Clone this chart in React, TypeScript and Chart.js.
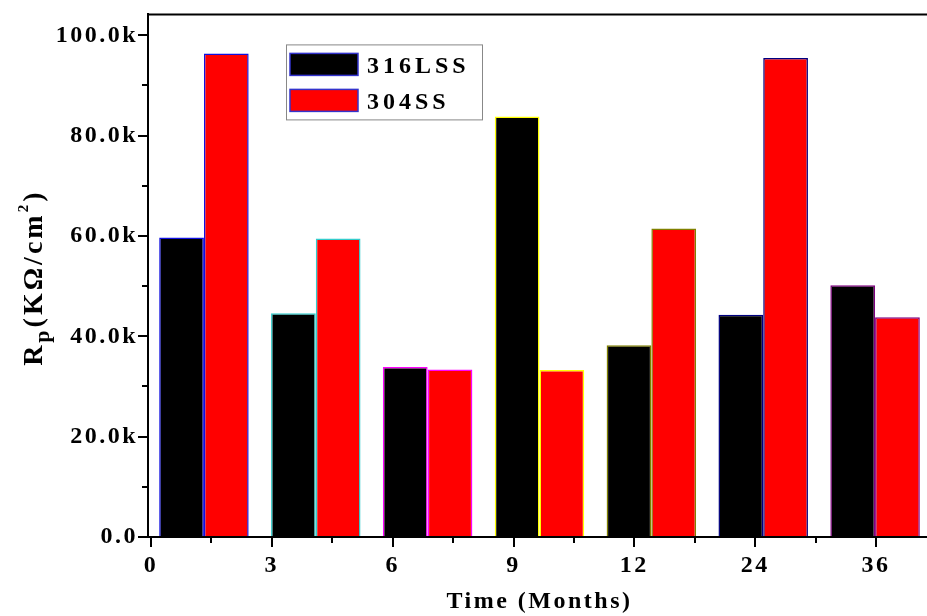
import React, { useEffect, useRef } from "react";
import { Chart, registerables } from "chart.js";

Chart.register(...registerables);

const categories = ["0", "3", "6", "9", "12", "24", "36"];
const xTickLabels = ["0", "3", "6", "9", "12", "24", "36"];
const series316 = [59700, 44600, 33900, 83800, 38200, 44300, 50200];
const series304 = [96400, 59500, 33400, 33300, 61500, 95500, 43800];
const yTickValues = [0, 20000, 40000, 60000, 80000, 100000];
const yMinorValues = [10000, 30000, 50000, 70000, 90000];
const xMinorValues = [0.5, 1.5, 2.5, 3.5, 4.5, 5.5];
const groupBorderColors = ["#1010e0", "#33cccc", "#ff00ff", "#ffff00", "#808000", "#000080", "#800080"];
const seriesLabels = ["316LSS", "304SS"];

const FONT = "'Liberation Serif', 'Times New Roman', serif";

const decorPlugin = {
  id: "decor",
  beforeDraw(chart: any) {
    chart.ctx.letterSpacing = "2.5px";
  },
  afterDraw(chart: any) {
    const ctx = chart.ctx;
    const ca = chart.chartArea;
    const y = chart.scales.y;
    const x2 = chart.scales.x2;
    ctx.save();
    ctx.strokeStyle = "#000";
    ctx.lineWidth = 2;
    // frame top and right
    ctx.beginPath();
    ctx.moveTo(ca.left - 1, ca.top);
    ctx.lineTo(ca.right, ca.top);
    ctx.lineTo(ca.right, ca.bottom);
    ctx.stroke();
    // minor ticks
    ctx.beginPath();
    yMinorValues.forEach((v) => {
      const py = Math.round(y.getPixelForValue(v));
      ctx.moveTo(ca.left - 6, py);
      ctx.lineTo(ca.left, py);
    });
    xMinorValues.forEach((v) => {
      const px = Math.round(x2.getPixelForValue(v));
      ctx.moveTo(px, ca.bottom);
      ctx.lineTo(px, ca.bottom + 6);
    });
    ctx.stroke();

    // legend
    const lx = ca.left + 138;
    const ly = ca.top + 30;
    ctx.fillStyle = "#fff";
    ctx.fillRect(lx, ly, 196, 75);
    ctx.strokeStyle = "#888";
    ctx.lineWidth = 1;
    ctx.strokeRect(lx + 0.5, ly + 0.5, 196, 75);
    chart.data.datasets.forEach((ds: any, i: number) => {
      const sy = ly + 9 + i * 36;
      ctx.fillStyle = ds.backgroundColor;
      ctx.fillRect(lx + 4, sy, 68, 22);
      ctx.strokeStyle = "#3333cc";
      ctx.lineWidth = 1.5;
      ctx.strokeRect(lx + 4, sy, 68, 22);
      ctx.fillStyle = "#000";
      ctx.font = `bold 24px ${FONT}`;
      ctx.letterSpacing = "4px";
      ctx.textAlign = "left";
      ctx.textBaseline = "alphabetic";
      ctx.fillText(ds.label, lx + 81, sy + 20);
    });

    // y axis title: R_p(KΩ/cm^2)
    const cy = (ca.top + ca.bottom) / 2 + 2;
    ctx.translate(42, cy);
    ctx.rotate(-Math.PI / 2);
    ctx.fillStyle = "#000";
    ctx.textAlign = "left";
    ctx.textBaseline = "alphabetic";
    ctx.letterSpacing = "3px";
    const parts = [
      { t: "R", f: `bold 28px ${FONT}`, dy: 0 },
      { t: "p", f: `bold 22px ${FONT}`, dy: 7 },
      { t: "(KΩ/cm", f: `bold 28px ${FONT}`, dy: 0 },
      { t: "2", f: `bold 15px ${FONT}`, dy: -14 },
      { t: ")", f: `bold 28px ${FONT}`, dy: 0 },
    ];
    let total = 0;
    const widths = parts.map((p) => {
      ctx.font = p.f;
      const w = ctx.measureText(p.t).width;
      total += w;
      return w;
    });
    let cx = -total / 2;
    parts.forEach((p, i) => {
      ctx.font = p.f;
      ctx.fillText(p.t, cx, p.dy);
      cx += widths[i];
    });
    ctx.restore();
  },
};

export default function App() {
  const canvasRef = useRef<HTMLCanvasElement | null>(null);

  useEffect(() => {
    if (!canvasRef.current) return;
    const chart = new Chart(canvasRef.current, {
      type: "bar",
      data: {
        labels: categories,
        datasets: [
          {
            label: seriesLabels[0],
            data: series316,
            backgroundColor: "#000000",
            borderColor: groupBorderColors,
            borderWidth: 1.5,
            categoryPercentage: 0.8,
            barPercentage: 1.0,
          },
          {
            label: seriesLabels[1],
            data: series304,
            backgroundColor: "#ff0000",
            borderColor: groupBorderColors,
            borderWidth: 1.5,
            categoryPercentage: 0.8,
            barPercentage: 1.0,
          },
        ],
      },
      options: {
        animation: false,
        responsive: true,
        maintainAspectRatio: false,
        layout: { padding: { left: 0, top: 13, right: 9, bottom: 0 } },
        plugins: {
          legend: { display: false },
          tooltip: { enabled: false },
        },
        scales: {
          x: {
            display: false,
          },
          x2: {
            type: "linear",
            position: "bottom",
            offset: false,
            min: -0.0248,
            max: 6.455,
            afterBuildTicks: (s: any) => {
              s.ticks = xTickLabels.map((_, i) => ({ value: i }));
            },
            afterFit: (s: any) => {
              s.height = 79;
            },
            ticks: {
              autoSkip: false,
              maxRotation: 0,
              padding: 4,
              color: "#000",
              font: { family: FONT, size: 24, weight: "bold" },
              callback: (v: any) => xTickLabels[Math.round(v)] ?? "",
            },
            grid: {
              display: true,
              offset: false,
              drawOnChartArea: false,
              drawTicks: true,
              tickLength: 10,
              color: "#000",
              lineWidth: 2,
            },
            border: { display: true, color: "#000", width: 2 },
            title: {
              display: true,
              text: "Time (Months)",
              color: "#000",
              font: { family: FONT, size: 24, weight: "bold" },
              padding: { top: 0, bottom: 0 },
            },
          },
          y: {
            min: 0,
            max: 104170,
            afterBuildTicks: (s: any) => {
              s.ticks = yTickValues.map((v) => ({ value: v }));
            },
            afterFit: (s: any) => {
              s.width = 148;
            },
            ticks: {
              padding: 0,
              color: "#000",
              font: { family: FONT, size: 24, weight: "bold" },
              callback: (v: any) => (v === 0 ? "0.0" : (v / 1000).toFixed(1) + "k"),
            },
            grid: {
              display: true,
              drawOnChartArea: false,
              drawTicks: true,
              tickLength: 10,
              color: "#000",
              lineWidth: 2,
            },
            border: { display: true, color: "#000", width: 2 },
          },
        },
      },
      plugins: [decorPlugin],
    } as any);
    return () => chart.destroy();
  }, []);

  return (
    <div
      style={{
        position: "fixed",
        left: 0,
        top: 0,
        width: 927,
        height: 616,
        overflow: "hidden",
        background: "#fff",
      }}
    >
      <div style={{ position: "relative", width: 940, height: 616 }}>
        <canvas ref={canvasRef} />
      </div>
    </div>
  );
}
